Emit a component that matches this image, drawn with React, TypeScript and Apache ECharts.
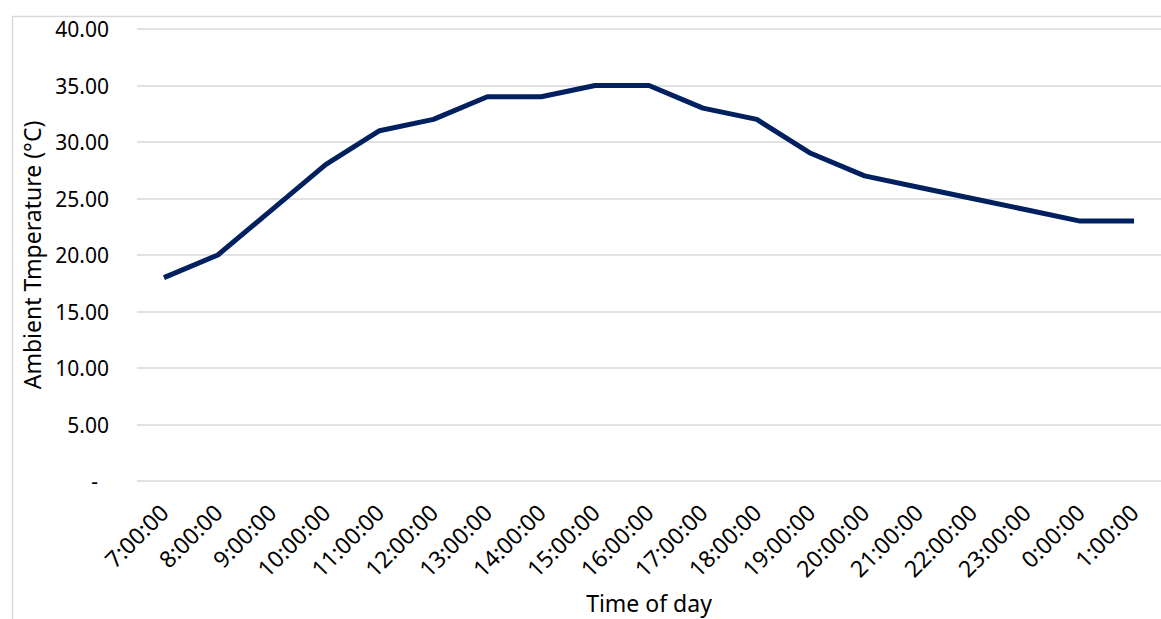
import React, { useEffect, useRef } from "react";
import * as echarts from "echarts";

const hours = [
  "7:00:00", "8:00:00", "9:00:00", "10:00:00", "11:00:00", "12:00:00",
  "13:00:00", "14:00:00", "15:00:00", "16:00:00", "17:00:00", "18:00:00",
  "19:00:00", "20:00:00", "21:00:00", "22:00:00", "23:00:00", "0:00:00", "1:00:00",
];
const ambientTemp = [18, 20, 24, 28, 31, 32, 34, 34, 35, 35, 33, 32, 29, 27, 26, 25, 24, 23, 23];

const FONT = "'Noto Sans', 'Open Sans', sans-serif";

export default function App() {
  const ref = useRef<HTMLDivElement>(null);

  useEffect(() => {
    if (!ref.current) return;
    const chart = echarts.init(ref.current, undefined, { renderer: "svg" });
    chart.setOption({
      animation: false,
      backgroundColor: "#ffffff",
      textStyle: { fontFamily: FONT },
      graphic: [
        {
          type: "rect",
          left: 10,
          top: 14,
          shape: { width: 1300, height: 800 },
          style: { fill: "none", stroke: "#d9d9d9", lineWidth: 1.5 },
          silent: true,
          z: -1,
        },
      ],
      grid: { left: 137, right: -1, top: 29, bottom: 136, containLabel: false },
      xAxis: {
        type: "category",
        data: hours,
        boundaryGap: true,
        axisLine: { show: false },
        axisTick: { show: false },
        axisLabel: {
          rotate: 45,
          margin: 27,
          interval: 0,
          color: "#000000",
          fontSize: 23,
          fontFamily: FONT,
        },
        name: "Time of day",
        nameLocation: "middle",
        nameGap: 110,
        nameTextStyle: { color: "#000000", fontSize: 23, fontFamily: FONT },
      },
      yAxis: {
        type: "value",
        min: 0,
        max: 40,
        interval: 5,
        axisLine: { show: false },
        axisTick: { show: false },
        splitLine: { lineStyle: { color: "#d9d9d9", width: 1.5 } },
        axisLabel: {
          margin: 28,
          color: "#000000",
          fontSize: 21,
          fontFamily: FONT,
          formatter: (v: number) => (v === 0 ? "-  " : v.toFixed(2)),
        },
        name: "Ambient Tmperature (°C)",
        nameLocation: "middle",
        nameGap: 94,
        nameTextStyle: { color: "#000000", fontSize: 23, fontFamily: FONT },
      },
      series: [
        {
          type: "line",
          data: ambientTemp,
          showSymbol: false,
          symbol: "none",
          lineStyle: { color: "#002060", width: 5, join: "round" },
          itemStyle: { color: "#002060" },
        },
      ],
    });
    return () => chart.dispose();
  }, []);

  return (
    <div
      ref={ref}
      style={{ position: "fixed", left: 0, top: 0, width: 1161, height: 619 }}
    />
  );
}
